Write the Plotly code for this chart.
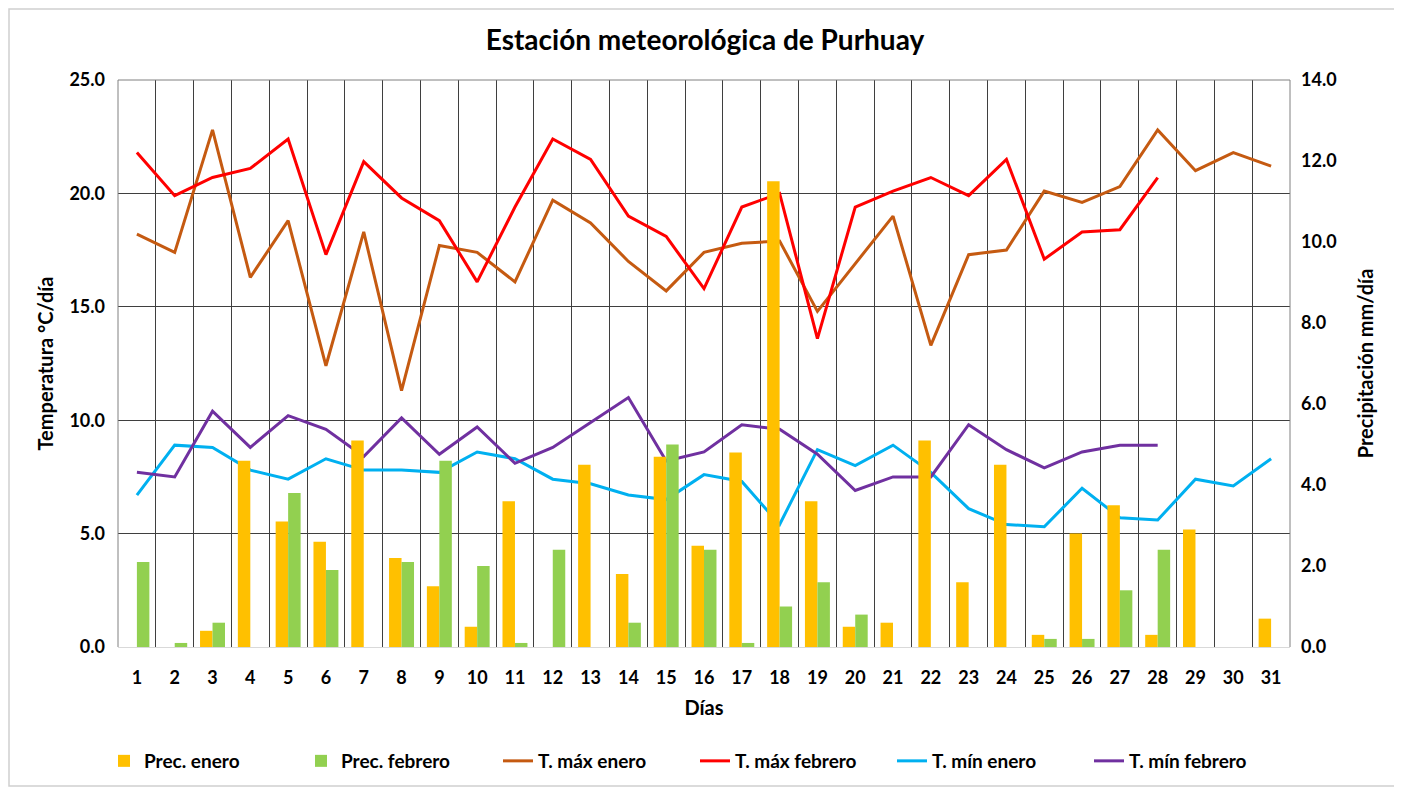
import plotly.graph_objects as go

# Day index (x axis)
dias = list(range(1, 32))

# Precipitation (mm/day)
prec_enero = [0, 0, 0.4, 4.6, 3.1, 2.6, 5.1, 2.2, 1.5, 0.5,
              3.6, 0, 4.5, 1.8, 4.7, 2.5, 4.8, 11.5, 3.6, 0.5,
              0.6, 5.1, 1.6, 4.5, 0.3, 2.8, 3.5, 0.3, 2.9, 0, 0.7]
prec_febrero = [2.1, 0.1, 0.6, 0, 3.8, 1.9, 0, 2.1, 4.6, 2.0,
                0.1, 2.4, 0, 0.6, 5.0, 2.4, 0.1, 1.0, 1.6, 0.8,
                0, 0, 0, 0, 0.2, 0.2, 1.4, 2.4, None, None, None]

# Temperatures (°C)
tmax_enero = [18.2, 17.4, 22.8, 16.3, 18.8, 12.4, 18.3, 11.3, 17.7, 17.4,
              16.1, 19.7, 18.7, 17.0, 15.7, 17.4, 17.8, 17.9, 14.8, 16.9,
              19.0, 13.3, 17.3, 17.5, 20.1, 19.6, 20.3, 22.8, 21.0, 21.8, 21.2]
tmax_febrero = [21.8, 19.9, 20.7, 21.1, 22.4, 17.3, 21.4, 19.8, 18.8, 16.1,
                19.4, 22.4, 21.5, 19.0, 18.1, 15.8, 19.4, 20.0, 13.6, 19.4,
                20.1, 20.7, 19.9, 21.5, 17.1, 18.3, 18.4, 20.7, None, None, None]
tmin_enero = [6.7, 8.9, 8.8, 7.8, 7.4, 8.3, 7.8, 7.8, 7.7, 8.6,
              8.3, 7.4, 7.2, 6.7, 6.5, 7.6, 7.3, 5.4, 8.7, 8.0,
              8.9, 7.7, 6.1, 5.4, 5.3, 7.0, 5.7, 5.6, 7.4, 7.1, 8.3]
tmin_febrero = [7.7, 7.5, 10.4, 8.8, 10.2, 9.6, 8.4, 10.1, 8.5, 9.7,
                8.1, 8.8, 9.9, 11.0, 8.2, 8.6, 9.8, 9.6, 8.5, 6.9,
                7.5, 7.5, 9.8, 8.7, 7.9, 8.6, 8.9, 8.9, None, None, None]

FONT = "Lato"
grid_col = "#3f3f3f"

# page body has an 8px margin, so the figure is sized / offset to compensate
W, H = 1394, 781
ML, MR, MT, MB = 110, 112, 72, 142
pw, ph = W - ML - MR, H - MT - MB

fig = go.Figure()

# Precipitation bars on the right axis
fig.add_trace(go.Bar(x=dias, y=prec_enero, name="Prec. enero",
                     marker=dict(color="#FFC000", line=dict(width=0)), yaxis="y2"))
fig.add_trace(go.Bar(x=dias, y=prec_febrero, name="Prec. febrero",
                     marker=dict(color="#92D050", line=dict(width=0)), yaxis="y2"))

# Temperature lines on the left axis
lines = [
    ("T. máx enero", tmax_enero, "#C55A11"),
    ("T. máx febrero", tmax_febrero, "#FF0000"),
    ("T. mín enero", tmin_enero, "#00B0F0"),
    ("T. mín febrero", tmin_febrero, "#7030A0"),
]
for name, vals, col in lines:
    fig.add_trace(go.Scatter(x=dias, y=vals, name=name, mode="lines",
                             line=dict(color=col, width=3), yaxis="y"))

fig.update_layout(
    width=W, height=H,
    margin=dict(l=ML, r=MR, t=MT, b=MB, autoexpand=False),
    paper_bgcolor="white", plot_bgcolor="white",
    font=dict(family=FONT, size=17, color="black", weight="bold"),
    title=dict(text="Estación meteorológica de Purhuay", x=0.5, xanchor="center",
               y=1 - 32 / H, yanchor="middle", font=dict(size=28, weight="bold")),
    barmode="group", bargap=0.34, bargroupgap=0,
    xaxis=dict(range=[0.5, 31.5], tickvals=dias, ticks="", showgrid=False,
               minor=dict(tick0=0.5, dtick=1, showgrid=True, gridcolor=grid_col,
                          gridwidth=1, ticks=""),
               showline=True, linecolor="#d9d9d9", linewidth=1, mirror=False,
               ticklabelstandoff=14,
               title=dict(text="Días", standoff=14), zeroline=False,
               tickfont=dict(size=18)),
    yaxis=dict(range=[0, 25], dtick=5, tickformat=".1f", showgrid=True,
               gridcolor=grid_col, gridwidth=1, zeroline=False, ticks="",
               ticklabelstandoff=12,
               title=dict(text="Temperatura °C/día", standoff=10),
               tickfont=dict(size=18)),
    yaxis2=dict(range=[0, 14], dtick=2, tickformat=".1f", overlaying="y",
                side="right", showgrid=False, zeroline=False, ticks="",
                ticklabelstandoff=10,
                title=dict(text="Precipitación mm/día", standoff=23),
                tickfont=dict(size=18)),
    legend=dict(orientation="h", x=(104 - 118) / pw, xanchor="left",
                y=(647 - 761) / ph, yanchor="middle",
                entrywidth=152, font=dict(size=19), traceorder="normal"),
)

# Plot frame edges as in the original chart
fig.add_shape(type="line", xref="paper", yref="paper", x0=0, x1=1, y0=1, y1=1,
              line=dict(color="#808080", width=1))
fig.add_shape(type="line", xref="paper", yref="paper", x0=1, x1=1, y0=0, y1=1,
              line=dict(color="#808080", width=1))
fig.add_shape(type="line", xref="paper", yref="paper", x0=0, x1=0, y0=0, y1=1,
              line=dict(color="#808080", width=1))

# Light outer chart border
fig.add_shape(type="rect", xref="paper", yref="paper",
              x0=(9 - 118) / pw, x1=(1399 - 118) / pw,
              y0=(647 - 786) / ph, y1=1 + (80 - 9) / ph,
              line=dict(color="#d0d0d0", width=1.5), layer="above")

fig.write_html("out.html")
